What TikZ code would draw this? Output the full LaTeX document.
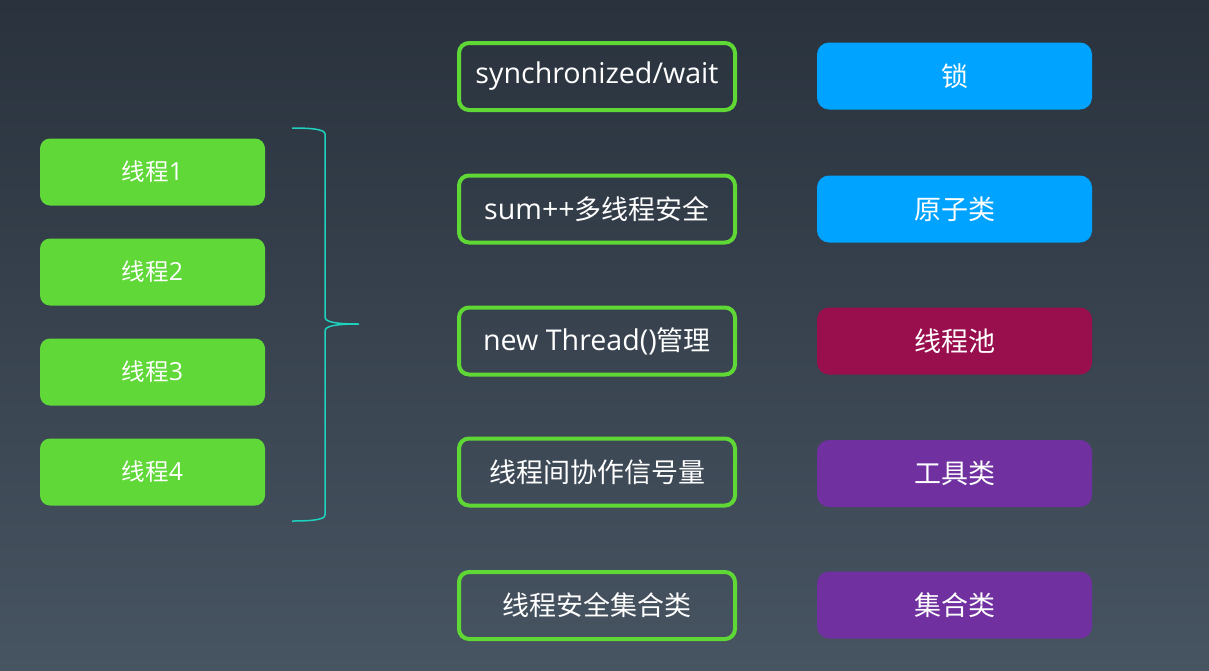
\documentclass[tikz,border=0pt]{standalone}
\usepackage{fontspec}
\newfontfamily\cjk{Noto Sans CJK SC}
\newfontfamily\lat[Scale=1.06]{Open Sans}
\definecolor{bgtop}{HTML}{29323D}
\definecolor{bgbot}{HTML}{475461}
\definecolor{lgreen}{HTML}{5FD838}
\definecolor{bgreen}{HTML}{5FD836}
\definecolor{lblue}{HTML}{00A3FF}
\definecolor{crim}{HTML}{990F4E}
\definecolor{purp}{HTML}{7030A0}
\definecolor{teal}{HTML}{1ED2BE}
\begin{document}
\begin{tikzpicture}[x=1pt,y=-1pt,
  thread/.style={fill=lgreen, rounded corners=10pt, minimum width=225pt, minimum height=67pt, text=white, font=\fontsize{23.5}{27}\selectfont, inner sep=0pt},
  mid/.style={draw=bgreen, line width=4pt, rounded corners=10pt, minimum width=276pt, minimum height=67pt, text=white, font=\fontsize{27}{31}\selectfont, inner sep=0pt},
  cat/.style={rounded corners=12pt, minimum width=275pt, minimum height=67pt, text=white, font=\fontsize{27}{31}\selectfont, inner sep=0pt},
  brace/.style={draw=teal, line width=1.5pt}]
\shade[top color=bgtop, bottom color=bgbot] (0,0) rectangle (1209,670);
\useasboundingbox (0,0) rectangle (1209,670);
% left thread boxes
\node[thread] (t1) at (152.5,172) {{\cjk 线程}{\lat 1}};
\node[thread] (t2) at (152.5,272) {{\cjk 线程}{\lat 2}};
\node[thread] (t3) at (152.5,372) {{\cjk 线程}{\lat 3}};
\node[thread] (t4) at (152.5,472) {{\cjk 线程}{\lat 4}};
% brace
\coordinate (bt) at (292,128);
\coordinate (bb) at (292,521);
\coordinate (tip) at (359,324);
\draw[brace] (bt) .. controls (310,128) and (325,129) .. (325,134)
  -- (325,317) .. controls (325,322) and (335,324) .. (tip)
  .. controls (335,324) and (325,326) .. (325,331)
  -- (325,515) .. controls (325,520) and (310,521) .. (bb);
% middle boxes
\node[mid] (m1) at (597,76.5) {\lat synchronized/wait};
\node[mid] (m2) at (597,209) {{\lat sum++}{\cjk 多线程安全}};
\node[mid] (m3) at (597,341) {{\lat new Thread()}{\cjk 管理}};
\node[mid] (m4) at (597,472) {\cjk 线程间协作信号量};
\node[mid] (m5) at (597,605.5) {\cjk 线程安全集合类};
% right category boxes
\node[cat, fill=lblue] (c1) at (954.5,76) {\cjk 锁};
\node[cat, fill=lblue] (c2) at (954.5,209) {\cjk 原子类};
\node[cat, fill=crim] (c3) at (954.5,341) {\cjk 线程池};
\node[cat, fill=purp] (c4) at (954.5,473.5) {\cjk 工具类};
\node[cat, fill=purp] (c5) at (954.5,605) {\cjk 集合类};
\end{tikzpicture}
\end{document}
